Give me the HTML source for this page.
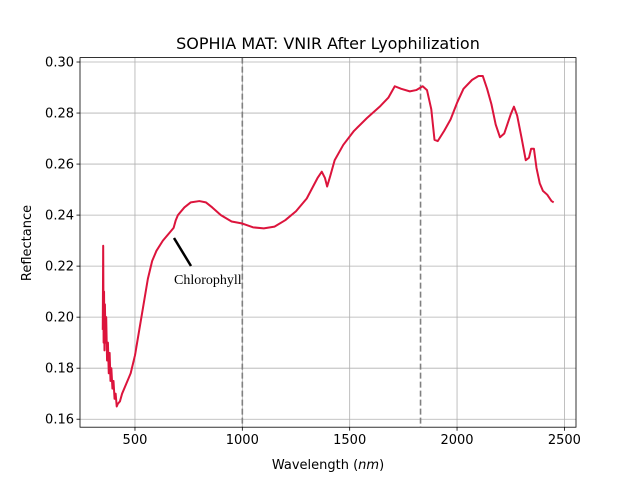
<!DOCTYPE html>
<html><head><meta charset="utf-8"><style>
body{margin:0;background:#fff}
svg text{font-family:"DejaVu Sans","Liberation Sans",sans-serif;fill:#000}
</style></head><body>
<svg id="chart" width="640" height="480">
<rect width="640" height="480" fill="#fff"/>
<text x="328" y="49" font-size="16" text-anchor="middle">SOPHIA MAT: VNIR After Lyophilization</text>
<g id="grid"></g><g id="series"></g><g id="axes"></g>
<text x="328" y="469" font-size="13" text-anchor="middle">Wavelength (<tspan font-style="italic">nm</tspan>)</text>
<text transform="translate(31,243) rotate(-90)" font-size="13" text-anchor="middle">Reflectance</text>
<line x1="174" y1="238" x2="191" y2="266" stroke="#000" stroke-width="2.5"/>
<text x="174" y="284" font-size="14" style="font-family:'Liberation Serif',serif" fill="#222">Chlorophyll</text>
</svg>
<script>
const wavelengths=[350,352,354,356,358,360,363,366,370,374,378,382,386,390,395,400,405,410,415,420,430,440,460,480,500,520,540,560,580,600,630,660,680,690,700,730,760,800,830,860,900,950,1000,1050,1100,1150,1200,1250,1300,1350,1370,1385,1395,1410,1430,1470,1520,1580,1640,1680,1710,1740,1780,1810,1840,1860,1880,1895,1910,1940,1970,2000,2030,2070,2100,2120,2140,2160,2180,2200,2220,2250,2265,2280,2300,2320,2335,2345,2358,2370,2385,2400,2420,2440,2450];
const reflectance=[0.195,0.228,0.19,0.21,0.187,0.205,0.19,0.2,0.183,0.19,0.178,0.186,0.175,0.18,0.172,0.175,0.168,0.17,0.165,0.166,0.167,0.17,0.174,0.178,0.185,0.195,0.205,0.215,0.222,0.226,0.23,0.233,0.235,0.238,0.24,0.243,0.245,0.2455,0.245,0.243,0.24,0.2375,0.2367,0.2352,0.2348,0.2355,0.238,0.2415,0.2465,0.2545,0.257,0.2545,0.2512,0.2555,0.2615,0.2675,0.273,0.278,0.2825,0.286,0.2905,0.2895,0.2885,0.289,0.2905,0.289,0.2815,0.2695,0.269,0.273,0.2775,0.284,0.2895,0.293,0.2945,0.2945,0.2895,0.2835,0.2755,0.2705,0.272,0.2795,0.2825,0.279,0.2705,0.2615,0.2625,0.266,0.266,0.2585,0.2525,0.2495,0.248,0.2455,0.245];
const xTicks=[500,1000,1500,2000,2500];
const yTicks=[0.16,0.18,0.20,0.22,0.24,0.26,0.28,0.30];
const markerLines=[1000,1830];
const L=80,R=576,T=57.6,B=427.2,X0=244,X1=2554,Y0=0.15687,Y1=0.30173;
const sx=v=>L+(v-X0)/(X1-X0)*(R-L), sy=v=>B-(v-Y0)/(Y1-Y0)*(B-T);
const NS="http://www.w3.org/2000/svg";
function mk(p,t,a){const e=document.createElementNS(NS,t);for(const k in a)e.setAttribute(k,a[k]);p.appendChild(e);return e;}
const grid=document.getElementById('grid'),axes=document.getElementById('axes'),ser=document.getElementById('series');
xTicks.forEach(v=>{const x=sx(v);
 const g=mk(grid,'line',{x1:x,x2:x,y1:T,y2:B,stroke:'#b0b0b0','stroke-width':0.8});
 
 
 mk(axes,'line',{x1:x,x2:x,y1:B,y2:B+3.5,stroke:'#000','stroke-width':0.8});
 const t=mk(axes,'text',{x:x,y:B+17,'font-size':13,'text-anchor':'middle'});t.textContent=v;
 
 });
yTicks.forEach(v=>{const y=sy(v);
 const g=mk(grid,'line',{x1:L,x2:R,y1:y,y2:y,stroke:'#b0b0b0','stroke-width':0.8});
 
 
 mk(axes,'line',{x1:L-3.5,x2:L,y1:y,y2:y,stroke:'#000','stroke-width':0.8});
 const t=mk(axes,'text',{x:L-6,y:y+4.5,'font-size':13,'text-anchor':'end'});t.textContent=v.toFixed(2);
 
 });
markerLines.forEach(v=>{const x=sx(v);
 const d=mk(grid,'line',{x1:x,x2:x,y1:T,y2:B,stroke:'#808080','stroke-width':1.6,'stroke-dasharray':'6,3'});
 
 });
const p=mk(ser,'polyline',{points:wavelengths.map((w,i)=>sx(w)+','+sy(reflectance[i])).join(' '),fill:'none',stroke:'#dc143c','stroke-width':2,'stroke-linejoin':'round'});


const f=mk(axes,'rect',{x:L,y:T,width:R-L,height:B-T,fill:'none',stroke:'#000','stroke-width':0.8});


</script>
</body></html>
